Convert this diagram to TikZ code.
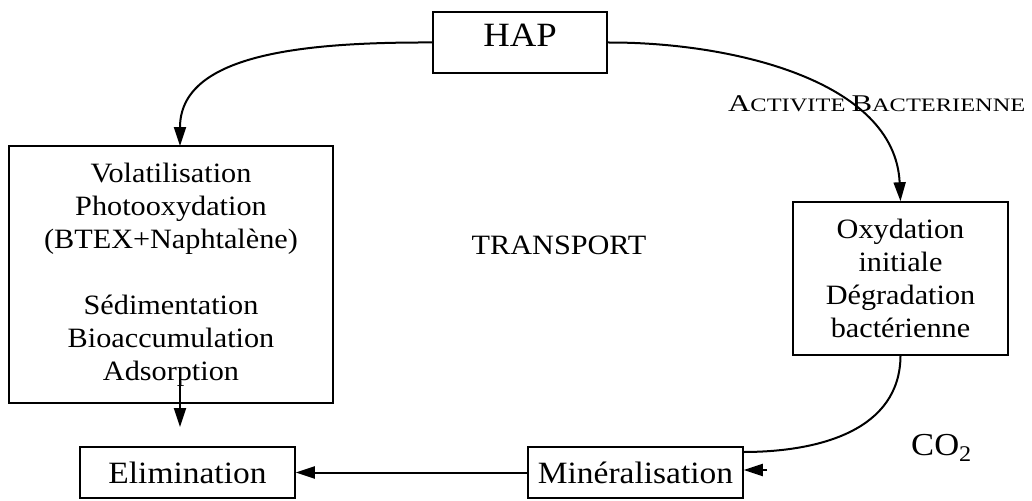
\documentclass[tikz,border=0pt]{standalone}
\usepackage{fontspec}
\setmainfont{Liberation Serif}[FakeStretch=1.08]
\usepackage{graphicx}
\usetikzlibrary{arrows.meta}
\begin{document}
\begin{tikzpicture}[x=1pt,y=-1pt,
  box/.style={draw, line width=1.5pt, align=center, inner sep=0pt},
  conn/.style={line width=2pt, -{Triangle[length=19pt,width=12pt]}},
  plainline/.style={line width=2pt},
  txt/.style={font=\fontsize{28}{33}\selectfont}]
\useasboundingbox (0,0) rectangle (1032,500);
% boxes
\node[box, minimum width=174pt, minimum height=61pt, font=\fontsize{34}{38}\selectfont, text height=24pt, text depth=15pt] (hap) at (520,42.5) {HAP};
\node[box, txt, minimum width=324pt, minimum height=257pt] (left) at (171,274.5)
  {Volatilisation\\Photooxydation\\(BTEX+Naphtalène)\\[33pt]Sédimentation\\Bioaccumulation\\Adsorption};
\node[box, txt, minimum width=215pt, minimum height=153pt] (right) at (900.5,278.5)
  {Oxydation\\initiale\\Dégradation\\bactérienne};
\node[box, font=\fontsize{31}{36}\selectfont, minimum width=215pt, minimum height=51pt] (elim) at (187.5,472.5) {Elimination};
\node[box, font=\fontsize{31}{36}\selectfont, minimum width=215pt, minimum height=51pt] (mineral) at (635.5,472.5) {Minéralisation};
% free texts
\node[txt, anchor=base, inner sep=0pt] (transport) at (559,254) {TRANSPORT};
\node[font=\fontsize{32}{36}\selectfont, anchor=base west, inner sep=0pt] (co2) at (911,455) {CO\textsubscript{2}};
\node[anchor=base west, inner sep=0pt] (act) at (728,111)
  {\scalebox{1.19}[1]{\fontsize{24}{28}\selectfont A\fontsize{19}{22}\selectfont CTIVITE \fontsize{24}{28}\selectfont B\fontsize{19}{22}\selectfont ACTERIENNE}};
% coordinates
\coordinate (lefttop) at (180,146);
\coordinate (dstart) at (180,383);
\coordinate (dend) at (180,427);
\coordinate (mtop) at (743,452);
\coordinate (ctail) at (767,470);
% connectors
\draw[conn] (hap.west) .. controls (300,42) and (180,55) .. (lefttop);
\draw[conn] (hap.east) .. controls (730,42) and (895,80) .. (right.north);
\draw[plainline] (right.south) .. controls (900,430) and (820,452) .. (mtop);
\draw[conn] (ctail) -- (ctail -| mineral.east);
\draw[conn] (mineral.west) -- (elim.east);
\draw[conn] (dstart) -- (dend);
\end{tikzpicture}
\end{document}
